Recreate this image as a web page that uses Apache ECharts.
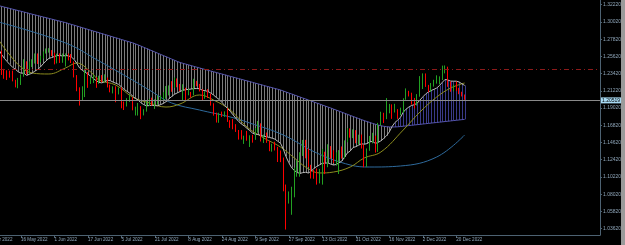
<!DOCTYPE html>
<html><head><meta charset="utf-8">
<script src="https://cdn.jsdelivr.net/npm/echarts@6/dist/echarts.min.js"></script>
<style>html,body{margin:0;padding:0;background:#000;overflow:hidden}#c{width:625px;height:245px}</style>
</head><body><div id="c"></div>
<script>
// x tick labels (every 12th daily bar, bar 0 = 28 Apr 2022)
const xTickLabels = ['28 Apr 2022','16 May 2022','1 Jun 2022','17 Jun 2022','5 Jul 2022','21 Jul 2022','8 Aug 2022','24 Aug 2022','9 Sep 2022','27 Sep 2022','13 Oct 2022','31 Oct 2022','16 Nov 2022','2 Dec 2022','20 Dec 2022'];
// y tick labels
const yTickValues = [1.32220,1.30020,1.27820,1.25620,1.23420,1.21220,1.19020,1.16820,1.14620,1.12420,1.10220,1.08020,1.05820,1.03620];
const currentPrice = 1.2020;
const currentPriceLabel = '1.20519';
const redLevel = 1.2400;

const opens = [1.2557,1.2489,1.2573,1.2490,1.2493,1.2627,1.2349,1.2335,1.2333,1.2318,
1.2247,1.2202,1.2262,1.2316,1.2490,1.2346,1.2477,1.2489,1.2589,1.2531,
1.2565,1.2619,1.2623,1.2630,1.2598,1.2487,1.2593,1.2488,1.2531,1.2587,
1.2532,1.2489,1.2310,1.2135,1.1996,1.2180,1.2353,1.2240,1.2272,1.2272,
1.2262,1.2268,1.2266,1.2270,1.2188,1.2124,1.2177,1.2095,1.2117,1.1958,
1.1940,1.2028,1.2030,1.1890,1.1890,1.1920,1.1823,1.1862,1.1960,1.1993,
1.1972,1.1990,1.2006,1.2034,1.2035,1.2161,1.2180,1.2163,1.2240,1.2170,
1.2151,1.2153,1.2073,1.2078,1.2076,1.2212,1.2201,1.2131,1.2054,1.2097,
1.2061,1.1957,1.1826,1.1765,1.1823,1.1821,1.1830,1.1732,1.1694,1.1653,
1.1621,1.1540,1.1510,1.1520,1.1513,1.1529,1.1504,1.1590,1.1680,1.1501,
1.1540,1.1470,1.1420,1.1436,1.1381,1.1265,1.1253,1.0857,1.0684,1.0732,
1.0889,1.1121,1.1167,1.1320,1.1478,1.1319,1.1153,1.1088,1.1054,1.0971,
1.1102,1.1320,1.1174,1.1359,1.1315,1.1210,1.1220,1.1300,1.1289,1.1479,
1.1620,1.1572,1.1617,1.1465,1.1508,1.1387,1.1164,1.1379,1.1511,1.1545,
1.1352,1.1710,1.1821,1.1763,1.1857,1.1864,1.1858,1.1886,1.1822,1.1892,
1.2013,1.2108,1.2090,1.1962,1.1957,1.2053,1.2262,1.2282,1.2188,1.2156,
1.2199,1.2259,1.2265,1.2279,1.2366,1.2422,1.2187,1.2140,1.2178,1.2150,
1.2096,1.2062];
const closes = [1.2489,1.2573,1.2490,1.2493,1.2627,1.2349,1.2335,1.2333,1.2318,1.2247,
1.2202,1.2262,1.2316,1.2490,1.2346,1.2477,1.2489,1.2589,1.2531,1.2565,
1.2619,1.2623,1.2630,1.2598,1.2487,1.2593,1.2488,1.2531,1.2587,1.2532,
1.2489,1.2310,1.2135,1.1996,1.2180,1.2353,1.2240,1.2272,1.2272,1.2262,
1.2268,1.2266,1.2270,1.2188,1.2124,1.2177,1.2095,1.2117,1.1958,1.1940,
1.2028,1.2030,1.1890,1.1890,1.1920,1.1823,1.1862,1.1960,1.1993,1.1972,
1.1990,1.2006,1.2034,1.2035,1.2161,1.2180,1.2163,1.2240,1.2170,1.2151,
1.2153,1.2073,1.2078,1.2076,1.2212,1.2201,1.2131,1.2054,1.2097,1.2061,
1.1957,1.1826,1.1765,1.1823,1.1821,1.1830,1.1732,1.1694,1.1653,1.1621,
1.1540,1.1510,1.1520,1.1513,1.1529,1.1504,1.1590,1.1680,1.1501,1.1540,
1.1470,1.1420,1.1436,1.1381,1.1265,1.1253,1.0857,1.0684,1.0732,1.0889,
1.1121,1.1167,1.1320,1.1478,1.1319,1.1153,1.1088,1.1054,1.0971,1.1102,
1.1320,1.1174,1.1359,1.1315,1.1210,1.1220,1.1300,1.1289,1.1479,1.1620,
1.1572,1.1617,1.1465,1.1508,1.1387,1.1164,1.1379,1.1511,1.1545,1.1352,
1.1710,1.1821,1.1763,1.1857,1.1864,1.1858,1.1886,1.1822,1.1892,1.2013,
1.2108,1.2090,1.1962,1.1957,1.2053,1.2262,1.2282,1.2188,1.2156,1.2199,
1.2259,1.2265,1.2279,1.2366,1.2422,1.2187,1.2140,1.2178,1.2150,1.2096,
1.2062,1.2020];
const highs = [1.2575,1.2615,1.2580,1.2543,1.2638,1.2637,1.2402,1.2384,1.2379,1.2380,
1.2263,1.2287,1.2332,1.2525,1.2499,1.2498,1.2525,1.2599,1.2599,1.2570,
1.2625,1.2663,1.2667,1.2642,1.2610,1.2597,1.2600,1.2599,1.2600,1.2599,
1.2592,1.2498,1.2323,1.2167,1.2180,1.2406,1.2362,1.2302,1.2325,1.2295,
1.2315,1.2323,1.2333,1.2292,1.2200,1.2180,1.2180,1.2164,1.2165,1.1985,
1.2028,1.2077,1.2040,1.1920,1.1967,1.1926,1.1887,1.2000,1.2020,1.2035,
1.2014,1.2063,1.2064,1.2105,1.2183,1.2191,1.2245,1.2293,1.2280,1.2210,
1.2206,1.2161,1.2145,1.2108,1.2276,1.2249,1.2210,1.2145,1.2115,1.2143,
1.2086,1.1963,1.1843,1.1842,1.1857,1.1860,1.1900,1.1747,1.1761,1.1696,
1.1622,1.1620,1.1549,1.1610,1.1554,1.1560,1.1647,1.1738,1.1707,1.1564,
1.1589,1.1483,1.1446,1.1472,1.1406,1.1360,1.1270,1.0925,1.0837,1.0897,
1.1141,1.1236,1.1338,1.1495,1.1496,1.1385,1.1177,1.1112,1.1131,1.1124,
1.1380,1.1344,1.1440,1.1416,1.1363,1.1337,1.1365,1.1411,1.1489,1.1645,
1.1642,1.1630,1.1620,1.1562,1.1564,1.1436,1.1386,1.1546,1.1586,1.1550,
1.1713,1.1855,1.1842,1.2029,1.1955,1.1949,1.1956,1.1888,1.1907,1.2027,
1.2153,1.2122,1.2098,1.2031,1.2080,1.2310,1.2345,1.2344,1.2198,1.2222,
1.2263,1.2320,1.2307,1.2444,1.2446,1.2430,1.2241,1.2200,1.2242,1.2160,
1.2110,1.2075];
const lows = [1.2411,1.2460,1.2457,1.2440,1.2465,1.2325,1.2276,1.2260,1.2290,1.2243,
1.2166,1.2155,1.2197,1.2302,1.2330,1.2333,1.2426,1.2471,1.2465,1.2485,
1.2535,1.2598,1.2610,1.2567,1.2460,1.2472,1.2478,1.2480,1.2432,1.2510,
1.2477,1.2293,1.2117,1.1934,1.1992,1.2042,1.2160,1.2210,1.2221,1.2160,
1.2212,1.2232,1.2230,1.2165,1.2103,1.2089,1.1976,1.2076,1.1899,1.1877,
1.1922,1.1980,1.1873,1.1807,1.1806,1.1760,1.1808,1.1856,1.1929,1.1934,
1.1891,1.1945,1.2002,1.1992,1.2021,1.2064,1.2110,1.2160,1.2167,1.2120,
1.2004,1.2004,1.2065,1.2036,1.2065,1.2180,1.2114,1.2000,1.2021,1.2030,
1.1933,1.1805,1.1717,1.1714,1.1787,1.1789,1.1725,1.1649,1.1631,1.1597,
1.1499,1.1500,1.1444,1.1485,1.1405,1.1460,1.1496,1.1587,1.1475,1.1456,
1.1458,1.1351,1.1345,1.1360,1.1213,1.1211,1.0839,1.0350,1.0682,1.0539,
1.0762,1.1025,1.1025,1.1290,1.1260,1.1149,1.1002,1.0999,1.0924,1.0940,
1.0924,1.1059,1.1146,1.1258,1.1201,1.1167,1.1060,1.1256,1.1259,1.1465,
1.1524,1.1518,1.1453,1.1436,1.1385,1.1146,1.1150,1.1356,1.1451,1.1333,
1.1342,1.1680,1.1710,1.1760,1.1835,1.1764,1.1845,1.1764,1.1810,1.1838,
1.2008,1.2050,1.1946,1.1898,1.1935,1.2047,1.2145,1.2172,1.2104,1.2108,
1.2176,1.2214,1.2205,1.2260,1.2345,1.2173,1.2110,1.2116,1.2121,1.2079,
1.2050,1.2007];

// fast line (light gray), one value per bar
const fastLine = [1.2851,1.2803,1.2749,1.2698,1.2655,1.2590,1.2539,1.2498,1.2458,1.2425,
1.2397,1.2366,1.2348,1.2348,1.2320,1.2333,1.2348,1.2374,1.2395,1.2427,
1.2468,1.2505,1.2536,1.2547,1.2561,1.2572,1.2572,1.2567,1.2572,1.2569,
1.2556,1.2525,1.2475,1.2415,1.2384,1.2360,1.2335,1.2309,1.2278,1.2251,
1.2229,1.2224,1.2238,1.2257,1.2252,1.2234,1.2219,1.2204,1.2173,1.2140,
1.2116,1.2093,1.2055,1.2025,1.2005,1.1969,1.1946,1.1930,1.1934,1.1937,
1.1933,1.1931,1.1945,1.1960,1.1984,1.2019,1.2049,1.2077,1.2095,1.2113,
1.2129,1.2136,1.2140,1.2145,1.2150,1.2152,1.2149,1.2130,1.2123,1.2114,
1.2094,1.2069,1.2038,1.2013,1.1974,1.1937,1.1897,1.1861,1.1816,1.1772,
1.1731,1.1699,1.1674,1.1643,1.1614,1.1582,1.1567,1.1566,1.1551,1.1543,
1.1536,1.1527,1.1518,1.1505,1.1479,1.1454,1.1380,1.1281,1.1204,1.1139,
1.1104,1.1079,1.1067,1.1077,1.1082,1.1072,1.1095,1.1132,1.1156,1.1177,
1.1197,1.1198,1.1202,1.1186,1.1175,1.1181,1.1203,1.1226,1.1277,1.1329,
1.1354,1.1398,1.1409,1.1428,1.1446,1.1440,1.1448,1.1470,1.1477,1.1450,
1.1464,1.1484,1.1514,1.1549,1.1597,1.1666,1.1717,1.1748,1.1783,1.1849,
1.1888,1.1915,1.1935,1.1945,1.1964,1.2005,1.2044,1.2081,1.2107,1.2126,
1.2141,1.2158,1.2190,1.2231,1.2268,1.2260,1.2246,1.2245,1.2245,1.2235,
1.2212,1.2191];
// slow line (slate purple), one value per bar
const slowLine = [1.3246,1.3237,1.3228,1.3219,1.3210,1.3201,1.3192,1.3183,1.3174,1.3165,
1.3156,1.3147,1.3138,1.3129,1.3120,1.3110,1.3101,1.3092,1.3083,1.3074,
1.3065,1.3056,1.3047,1.3038,1.3029,1.3020,1.3011,1.3002,1.2993,1.2982,
1.2971,1.2961,1.2950,1.2939,1.2928,1.2918,1.2907,1.2896,1.2885,1.2875,
1.2864,1.2853,1.2842,1.2832,1.2821,1.2810,1.2799,1.2789,1.2778,1.2767,
1.2756,1.2746,1.2735,1.2722,1.2708,1.2693,1.2678,1.2663,1.2648,1.2633,
1.2618,1.2603,1.2588,1.2573,1.2558,1.2543,1.2528,1.2513,1.2498,1.2484,
1.2474,1.2464,1.2454,1.2444,1.2434,1.2424,1.2414,1.2404,1.2395,1.2385,
1.2375,1.2366,1.2356,1.2346,1.2337,1.2327,1.2317,1.2307,1.2298,1.2288,
1.2278,1.2269,1.2259,1.2249,1.2240,1.2230,1.2220,1.2210,1.2201,1.2191,
1.2181,1.2172,1.2162,1.2152,1.2143,1.2133,1.2120,1.2107,1.2094,1.2082,
1.2069,1.2056,1.2043,1.2030,1.2018,1.2005,1.1992,1.1979,1.1966,1.1954,
1.1941,1.1928,1.1915,1.1903,1.1889,1.1876,1.1862,1.1849,1.1835,1.1822,
1.1808,1.1795,1.1781,1.1768,1.1755,1.1742,1.1730,1.1718,1.1706,1.1695,
1.1685,1.1676,1.1669,1.1664,1.1661,1.1660,1.1661,1.1663,1.1666,1.1670,
1.1674,1.1678,1.1682,1.1686,1.1690,1.1694,1.1698,1.1702,1.1706,1.1710,
1.1714,1.1718,1.1722,1.1726,1.1730,1.1734,1.1738,1.1742,1.1746,1.1750,
1.1754,1.1758];
// medium line (olive) sampled at bar indexes
const midIdx = [4,8,12,16,22,28,32,37,40,46,52,58,64,69,76,81,87,93,99,105,110,114,119,124,130,135,141,149,155,161,166,171];
const midVal = [1.2771,1.2580,1.2426,1.2350,1.2337,1.2414,1.2477,1.2363,1.2260,1.2196,1.2043,1.1967,1.1915,1.1954,1.2069,1.2005,1.1877,1.1660,1.1520,1.1405,1.1264,1.1149,1.1073,1.1085,1.1149,1.1264,1.1341,1.1622,1.1852,1.2043,1.2158,1.2222];
// long line (steel blue) sampled at bar indexes
const longIdx = [4,28,40,52,58,66,76,87,94,106,118,130,137,148,161,171];
const longVal = [1.3001,1.2733,1.2503,1.2260,1.2132,1.1967,1.1877,1.1788,1.1711,1.1558,1.1328,1.1175,1.1149,1.1162,1.1277,1.1558];

const firstVisibleBar = 5;
const totalBars = 220;
const lastBar = opens.length - 1;
const cats = [];
for (let i = 0; i < totalBars; i++) cats.push(String(i));

const candleData = opens.map((o, i) => [o, closes[i], lows[i], highs[i]]);
const hatchData = fastLine.map((g, i) => [i, g, slowLine[i]]);
const midData = midIdx.map((k, i) => [k, midVal[i]]);
const longData = longIdx.map((k, i) => [k, longVal[i]]);
const fastData = fastLine.map((v, i) => [i, v]);
const slowData = slowLine.map((v, i) => [i, v]);

const labelColor = '#8fa6ba';
const axisColor = '#4d6272';
const xFont = {fontSize: 4.6, fontFamily: 'Liberation Sans'};
const yFont = {fontSize: 5, fontFamily: 'Liberation Sans'};
const isTick = (idx) => idx % 12 === 0 && idx <= lastBar;
const chart = echarts.init(document.getElementById('c'), null, {renderer: 'canvas'});
chart.setOption({
  backgroundColor: '#000000',
  animation: false,
  grid: {left: 0, right: 25, top: 0, bottom: 10, containLabel: false},
  xAxis: {
    type: 'category', data: cats, boundaryGap: true, min: firstVisibleBar, max: totalBars - 1,
    axisLine: {show: true, lineStyle: {color: axisColor, width: 1}},
    axisTick: {show: true, length: 3, lineStyle: {color: axisColor}, interval: isTick, alignWithLabel: true},
    axisLabel: Object.assign({
      interval: isTick, showMinLabel: true, showMaxLabel: true, hideOverlap: false,
      formatter: (v) => isTick(Number(v)) ? xTickLabels[Number(v) / 12] : '',
      align: 'left', color: labelColor, margin: 2.5
    }, xFont),
    splitLine: {show: false}
  },
  yAxis: {
    type: 'value', position: 'right', min: 1.02807, max: 1.32820, scale: true,
    axisLine: {show: true, lineStyle: {color: axisColor, width: 1}},
    axisTick: {show: true, length: 2, customValues: yTickValues, lineStyle: {color: axisColor}},
    axisLabel: Object.assign({customValues: yTickValues, formatter: (v) => v.toFixed(5),
      color: labelColor, margin: 3, showMinLabel: true, showMaxLabel: true}, yFont),
    splitLine: {show: false}
  },
  series: [
    {
      type: 'custom', z: 1, silent: true, clip: true,
      data: hatchData, encode: {x: 0, y: [1, 2]},
      renderItem: (params, api) => {
        const i = api.value(0), g = api.value(1), p = api.value(2);
        const a = api.coord([i, g]), b = api.coord([i, p]);
        const x = Math.round(a[0]) + 0.5;
        return {type: 'line', shape: {x1: x, y1: a[1], x2: x, y2: b[1]},
          style: {stroke: g > p ? '#3a3a88' : '#7c7c7c', lineWidth: 1}};
      }
    },
    {type: 'line', data: slowData, z: 3, showSymbol: false, silent: true,
      lineStyle: {color: '#5656b0', width: 1}},
    {type: 'line', data: longData, z: 3, showSymbol: false, silent: true, smooth: 0.4,
      lineStyle: {color: '#2e6a9c', width: 1}},
    {type: 'line', data: midData, z: 3, showSymbol: false, silent: true, smooth: 0.4,
      lineStyle: {color: '#8c8c1e', width: 1}},
    {type: 'line', data: fastData, z: 3, showSymbol: false, silent: true,
      lineStyle: {color: '#b8b8b8', width: 1}},
    {
      type: 'candlestick', data: candleData, z: 4, barWidth: 1, silent: true,
      itemStyle: {color: '#22a022', color0: '#ff0000', borderColor: '#22a022', borderColor0: '#ff0000', borderWidth: 1},
      markLine: {
        silent: true, symbol: ['none', 'none'], animation: false,
        data: [
          {yAxis: currentPrice, lineStyle: {color: '#8a8a8a', width: 1, type: 'solid'},
            label: Object.assign({show: true, position: 'end', distance: 1, formatter: currentPriceLabel,
              backgroundColor: '#a6d8f2', color: '#000', padding: [1, 1, 0, 1]}, yFont)},
          {yAxis: redLevel, lineStyle: {color: '#8c1a1a', width: 1, type: [5, 3, 1, 3]}, label: {show: false}}
        ]
      }
    }
  ]
});
// the first tick label (bar 0) lies left of the visible area, so only its tail shows
const p12 = chart.convertToPixel({xAxisIndex: 0}, 12);
const p24 = chart.convertToPixel({xAxisIndex: 0}, 24);
const axisY = chart.convertToPixel({yAxisIndex: 0}, 1.02807);
chart.setOption({
  graphic: [
    {type: 'text', x: p12 - (p24 - p12), y: axisY + 2.5, silent: true,
      style: Object.assign({text: xTickLabels[0], fill: labelColor, textVerticalAlign: 'top'}, xFont)},
    {type: 'rect', shape: {x: 621, y: 0, width: 4, height: 245}, style: {fill: '#9a9a9a'}, silent: true}
  ]
});
</script></body></html>
